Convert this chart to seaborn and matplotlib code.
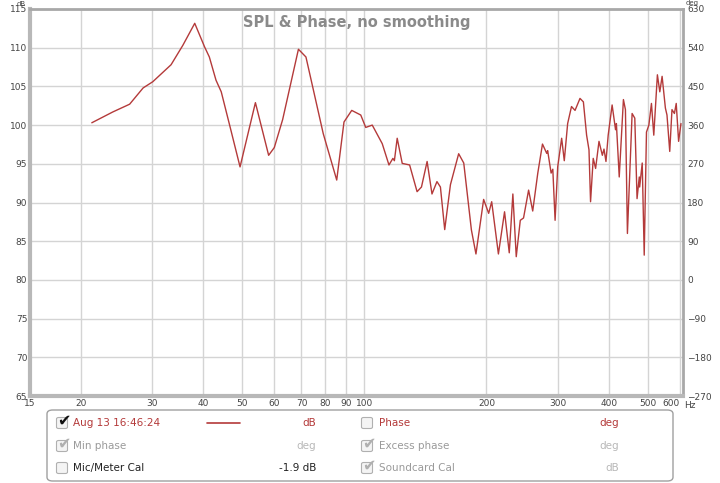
"""SPL & Phase frequency response, no smoothing."""

import matplotlib
matplotlib.use("Agg")
import matplotlib.pyplot as plt
from matplotlib.patches import FancyBboxPatch
import pandas as pd
import seaborn as sns

freq_hz = [
    21.3, 24.0, 26.4, 28.5, 30.1, 33.4, 35.7, 38.2, 40.4, 41.5, 43.1, 44.4,
    47.0, 49.4, 53.9, 58.1, 60.0, 62.9, 68.8, 71.8, 79.2, 85.5, 89.1, 93.1,
    98.0, 100.8, 104.6, 110.7, 115.0, 117.6, 118.6, 120.5, 124.0, 129.3,
    134.9, 138.3, 142.8, 146.8, 151.0, 154.0, 157.8, 163.0, 170.8, 175.8,
    183.6, 188.4, 196.8, 202.5, 206.0, 214.0, 221.6, 227.6, 232.3, 236.8,
    242.3, 246.8, 254.0, 260.0, 267.6, 274.8, 281.5, 283.0, 288.6, 291.4,
    295.2, 299.6, 306.4, 311.0, 317.0, 324.0, 330.6, 340.0, 346.6, 353.0,
    357.8, 361.0, 366.5, 371.5, 378.7, 386.0, 389.6, 394.0, 399.0, 408.0,
    416.0, 418.0, 424.8, 435.0, 440.0, 445.0, 457.0, 464.0, 470.0, 476.0,
    477.0, 484.0, 489.5, 495.8, 502.6, 510.0, 516.8, 527.5, 534.8, 541.8,
    552.0, 557.0, 565.8, 573.0, 581.0, 587.0, 595.0, 603.0,
]
spl_db = [
    100.3, 101.7, 102.7, 104.8, 105.6, 107.8, 110.3, 113.15, 110.1, 108.8, 105.8, 104.3,
    99.15, 94.6, 102.9, 96.1, 97.1, 100.7, 109.8, 108.8, 98.9, 92.9, 100.4, 101.9,
    101.3, 99.7, 100.0, 97.6, 94.85, 95.7, 95.4, 98.3, 95.05, 94.85,
    91.4, 92.0, 95.3, 91.1, 92.7, 92.0, 86.5, 92.3, 96.3, 95.1,
    86.45, 83.35, 90.4, 88.6, 90.1, 83.35, 88.8, 83.5, 91.1, 83.0,
    87.7, 88.0, 91.6, 88.9, 93.8, 97.55, 96.35, 96.7, 93.8, 94.3,
    87.7, 94.6, 98.3, 95.4, 100.2, 102.4, 101.9, 103.45, 103.0, 98.7,
    96.8, 90.1, 95.7, 94.4, 97.9, 96.1, 96.9, 95.3, 98.7, 102.6,
    99.4, 100.2, 93.3, 103.3, 102.0, 86.0, 101.5, 100.9, 90.5, 93.3,
    92.0, 95.1, 83.2, 99.1, 100.0, 102.8, 98.7, 106.5, 104.3, 106.3,
    102.2, 101.3, 96.6, 102.0, 101.5, 102.8, 97.9, 100.2,
]

x_ticks = [15, 20, 30, 40, 50, 60, 70, 80, 90, 100, 200, 300, 400, 500, 600]
db_ticks = [65, 70, 75, 80, 85, 90, 95, 100, 105, 110, 115]
deg_ticks = [-270, -180, -90, 0, 90, 180, 270, 360, 450, 540, 630]

RED = "#b43a3a"
GRID = "#d4d4d4"
FRAME = "#b8b8b8"

sns.set_theme(style="whitegrid")
plt.rcParams["font.family"] = ["DejaVu Sans"]

df = pd.DataFrame({"freq": freq_hz, "spl": spl_db})

fig = plt.figure(figsize=(7.2, 4.83), dpi=100)
ax = fig.add_axes([30 / 720, 1 - 396 / 483, 653 / 720, 387 / 483])

sns.lineplot(data=df, x="freq", y="spl", ax=ax, color=RED, linewidth=1.0,
             estimator=None, sort=False)

ax.set_xscale("log")
ax.set_xlim(15, 610)
ax.set_ylim(65, 115)
ax.set_xticks(x_ticks)
ax.set_xticklabels([str(t) for t in x_ticks])
ax.minorticks_off()
ax.set_yticks(db_ticks)
ax.set_xlabel("")
ax.set_ylabel("")
ax.grid(True, color=GRID, linewidth=1.0)
ax.tick_params(axis="both", length=0, labelsize=6.5, labelcolor="#444444", pad=2)
# last frequency label sits left of its tick so "Hz" fits after it
ax.get_xticklabels()[-1].set_horizontalalignment("right")

for side in ["left", "bottom"]:
    ax.spines[side].set_color(FRAME)
    ax.spines[side].set_linewidth(3)
for side in ["top", "right"]:
    ax.spines[side].set_color("#a8a8a8")
    ax.spines[side].set_linewidth(2)

ax2 = ax.twinx()
ax2.set_ylim(-270, 630)
ax2.set_yticks(deg_ticks)
ax2.grid(False)
ax2.tick_params(axis="y", length=0, labelsize=6.5, labelcolor="#444444", pad=3)
for side in ax2.spines:
    ax2.spines[side].set_visible(False)

ax.text(0.5, 0.985, "SPL & Phase, no smoothing", transform=ax.transAxes,
        ha="center", va="top", fontsize=10.5, fontweight="bold", color="#8a8a8a")

# unit labels around the frame
fig.text(21 / 720, 1 - 0.5 / 483, "dB", fontsize=5, color="#444444", ha="center", va="top")
fig.text(692 / 720, 1 - 0.5 / 483, "deg", fontsize=5, color="#444444", ha="center", va="top")
fig.text(684 / 720, 1 - 406 / 483, "Hz", fontsize=6.5, color="#444444", ha="left", va="center")

# legend panel
panel = FancyBboxPatch((47 / 720, 1 - 481 / 483), 626 / 720, 71 / 483,
                       boxstyle="round,pad=0,rounding_size=0.008",
                       transform=fig.transFigure, facecolor="white",
                       edgecolor="#a0a0a0", linewidth=1.0)
fig.patches.append(panel)


def checkbox(xp, yp, checked, check_color):
    size = 11
    box = FancyBboxPatch(((xp - size / 2) / 720, 1 - (yp + size / 2) / 483),
                         size / 720, size / 483,
                         boxstyle="round,pad=0,rounding_size=0.003",
                         transform=fig.transFigure, facecolor="#f4f4f4",
                         edgecolor="#b0b0b0", linewidth=0.8)
    fig.patches.append(box)
    if checked:
        fig.text((xp + 2) / 720, 1 - (yp - 2) / 483, "\u2714", fontsize=11.5,
                 color=check_color, ha="center", va="center")


rows = [423, 446, 468]
left_items = [
    (True, "#111111", "Aug 13 16:46:24", RED, "dB", RED),
    (True, "#b0b0b0", "Min phase", "#9a9a9a", "deg", "#b8b8b8"),
    (False, "#111111", "Mic/Meter Cal", "#222222", "-1.9 dB", "#222222"),
]
right_items = [
    (False, "#111111", "Phase", RED, "deg", RED),
    (True, "#b0b0b0", "Excess phase", "#9a9a9a", "deg", "#b8b8b8"),
    (True, "#b0b0b0", "Soundcard Cal", "#9a9a9a", "dB", "#b8b8b8"),
]

for yp, (chk, ccol, label, lcol, unit, ucol) in zip(rows, left_items):
    checkbox(62, yp, chk, ccol)
    fig.text(73 / 720, 1 - yp / 483, label, fontsize=7.5, color=lcol, va="center")
    fig.text(316 / 720, 1 - yp / 483, unit, fontsize=7.5, color=ucol, va="center", ha="right")

for yp, (chk, ccol, label, lcol, unit, ucol) in zip(rows, right_items):
    checkbox(367, yp, chk, ccol)
    fig.text(379 / 720, 1 - yp / 483, label, fontsize=7.5, color=lcol, va="center")
    fig.text(619 / 720, 1 - yp / 483, unit, fontsize=7.5, color=ucol, va="center", ha="right")

# sample line of the measurement trace
fig.add_artist(plt.Line2D([207 / 720, 240 / 720], [1 - 423 / 483, 1 - 423 / 483],
                          color=RED, linewidth=1.2, transform=fig.transFigure))

fig.savefig("out.png", dpi=100, facecolor="white")
